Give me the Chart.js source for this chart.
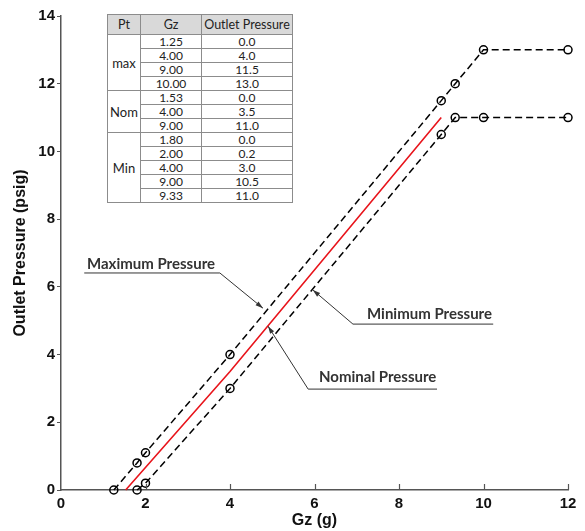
<!DOCTYPE html>
<html><head><meta charset="utf-8">
<script src="https://cdn.jsdelivr.net/npm/chart.js@4.4.1/dist/chart.umd.min.js"></script>
<style>
html,body{margin:0;padding:0;background:#fff;}
#wrap{position:relative;width:585px;height:531px;overflow:hidden;}
#c{position:absolute;left:0;top:0;}
#tbl{position:absolute;left:107px;top:14px;border-collapse:collapse;font-family:Lato,"Open Sans",sans-serif;font-size:12px;color:#222;background:#fff;table-layout:fixed;}
#tbl td,#tbl th{border:1px solid #8c8c8c;padding:0;text-align:center;line-height:12px;height:13px;overflow:hidden;white-space:nowrap;}
#tbl th{background:#d9d9d9;font-weight:normal;height:19px;font-size:12.5px;}
#tbl td.pt{font-size:13px;}
</style></head>
<body>
<div id="wrap">
<canvas id="c" width="585" height="531"></canvas>
<table id="tbl"><colgroup><col style="width:33px"><col style="width:61px"><col style="width:91px"></colgroup><thead><tr><th>Pt</th><th>Gz</th><th>Outlet Pressure</th></tr></thead><tbody id="tb"></tbody></table>
</div>
<script>
// ---- data ----
const maxGz = [1.25, 1.8, 2.0, 4.0, 9.0, 9.33, 10.0, 12.0];
const maxP  = [0.0, 0.8, 1.1, 4.0, 11.5, 12.0, 13.0, 13.0];
const minGz = [1.8, 2.0, 4.0, 9.0, 9.33, 10.0, 12.0];
const minP  = [0.0, 0.2, 3.0, 10.5, 11.0, 11.0, 11.0];
const nomGz = [1.53, 4.0, 9.0];
const nomP  = [0.0, 3.5, 11.0];
const xTickValues = [0, 2, 4, 6, 8, 10, 12];
const yTickValues = [0, 2, 4, 6, 8, 10, 12, 14];
const xTitle = 'Gz (g)';
const yTitle = 'Outlet Pressure (psig)';
// table
const tableHeader = ['Pt', 'Gz', 'Outlet Pressure'];
const tableGroups = ['max', 'Nom', 'Min'];
const tableGz = [['1.25','4.00','9.00','10.00'], ['1.53','4.00','9.00'], ['1.80','2.00','4.00','9.00','9.33']];
const tableP  = [['0.0','4.0','11.5','13.0'], ['0.0','3.5','11.0'], ['0.0','0.2','3.0','10.5','11.0']];
// annotations
const noteLabels = ['Maximum Pressure', 'Minimum Pressure', 'Nominal Pressure'];

// build table
const tb = document.getElementById('tb');
tableGroups.forEach((g, gi) => {
  tableGz[gi].forEach((v, ri) => {
    const tr = document.createElement('tr');
    if (ri === 0) {
      const td = document.createElement('td');
      td.className = 'pt'; td.rowSpan = tableGz[gi].length; td.textContent = g;
      tr.appendChild(td);
    }
    const a = document.createElement('td'); a.textContent = v; tr.appendChild(a);
    const b = document.createElement('td'); b.textContent = tableP[gi][ri]; tr.appendChild(b);
    tb.appendChild(tr);
  });
});

const toXY = (xs, ys) => xs.map((x, i) => ({x: x, y: ys[i]}));

// annotation geometry in data units
const notes = [
  {text: noteLabels[0], tx: 0.615, ty: 6.675, ux0: 0.55, ux1: 3.76, uy: 6.41, tipx: 4.78, tipy: 5.37, from: 'end'},
  {text: noteLabels[1], tx: 7.243, ty: 5.198, ux0: 6.91, ux1: 10.23, uy: 4.90, tipx: 5.96, tipy: 5.91, from: 'start'},
  {text: noteLabels[2], tx: 6.107, ty: 3.338, ux0: 5.85, ux1: 8.90, uy: 2.98, tipx: 4.90, tipy: 4.84, from: 'start'}
];

const notePlugin = {
  id: 'notes',
  afterDraw(chart) {
    const ctx = chart.ctx, xs = chart.scales.x, ys = chart.scales.y;
    ctx.save();
    // inward x ticks
    ctx.strokeStyle = '#555'; ctx.lineWidth = 1.2;
    xTickValues.forEach(v => {
      if (v === 0) return;
      const px = Math.round(xs.getPixelForValue(v)) + 0.5;
      ctx.beginPath(); ctx.moveTo(px, ys.bottom); ctx.lineTo(px, ys.bottom - 6); ctx.stroke();
    });
    // notes
    notes.forEach(n => {
      ctx.fillStyle = '#333';
      ctx.font = 'bold 15px Lato, "Open Sans", sans-serif';
      ctx.textBaseline = 'middle'; ctx.textAlign = 'left';
      ctx.fillText(n.text, xs.getPixelForValue(n.tx), ys.getPixelForValue(n.ty));
      const x0 = xs.getPixelForValue(n.ux0), x1 = xs.getPixelForValue(n.ux1), uy = ys.getPixelForValue(n.uy);
      const tx = xs.getPixelForValue(n.tipx), ty = ys.getPixelForValue(n.tipy);
      const sx = n.from === 'end' ? x1 : x0;
      ctx.strokeStyle = '#333'; ctx.lineWidth = 1;
      ctx.beginPath(); ctx.moveTo(x0, uy); ctx.lineTo(x1, uy); ctx.stroke();
      ctx.beginPath(); ctx.moveTo(sx, uy); ctx.lineTo(tx, ty); ctx.stroke();
      const ang = Math.atan2(ty - uy, tx - sx), L = 8, w = 0.3;
      ctx.beginPath();
      ctx.moveTo(tx, ty);
      ctx.lineTo(tx - L * Math.cos(ang - w), ty - L * Math.sin(ang - w));
      ctx.lineTo(tx - L * Math.cos(ang + w), ty - L * Math.sin(ang + w));
      ctx.closePath();
      ctx.fillStyle = '#333'; ctx.fill();
    });
    ctx.restore();
  }
};

const tickFont = {family: '"Liberation Sans", Arial, sans-serif', size: 15, weight: 'bold'};
const titleFont = {family: '"Liberation Sans", Arial, sans-serif', size: 16, weight: 'bold'};

new Chart(document.getElementById('c'), {
  type: 'line',
  data: {
    datasets: [
      {label: 'Maximum', data: toXY(maxGz, maxP), borderColor: '#000', borderWidth: 1.5, borderDash: [7, 4],
       pointRadius: 4, pointBorderWidth: 1.5, pointBorderColor: '#000', pointBackgroundColor: 'rgba(0,0,0,0)', clip: false, tension: 0},
      {label: 'Minimum', data: toXY(minGz, minP), borderColor: '#000', borderWidth: 1.5, borderDash: [7, 4],
       pointRadius: 4, pointBorderWidth: 1.5, pointBorderColor: '#000', pointBackgroundColor: 'rgba(0,0,0,0)', clip: false, tension: 0},
      {label: 'Nominal', data: toXY(nomGz, nomP), borderColor: '#e8141b', borderWidth: 1.6,
       pointRadius: 0, clip: false, tension: 0}
    ]
  },
  options: {
    responsive: false,
    animation: false,
    layout: {padding: {left: 0, right: 17, top: 16, bottom: 0}},
    plugins: {legend: {display: false}, tooltip: {enabled: false}},
    scales: {
      x: {
        type: 'linear', min: 0, max: 12,
        afterBuildTicks: s => { s.ticks = xTickValues.map(v => ({value: v})); },
        afterFit: s => { s.height = 41; },
        grid: {drawOnChartArea: false, drawTicks: false},
        border: {display: true, color: '#555', width: 1.5},
        ticks: {color: '#111', font: tickFont, padding: 5, maxRotation: 0},
        title: {display: true, text: xTitle, color: '#111', font: titleFont, padding: {top: 0, bottom: 1}}
      },
      y: {
        type: 'linear', min: 0, max: 14,
        afterBuildTicks: s => { s.ticks = yTickValues.map(v => ({value: v})); },
        afterFit: s => { s.width = 61; },
        grid: {drawOnChartArea: false, drawTicks: true, tickLength: 4, color: '#555'},
        border: {display: true, color: '#555', width: 1.5},
        ticks: {color: '#111', font: tickFont, padding: 2},
        title: {display: true, text: yTitle, color: '#111', font: titleFont, padding: {top: 11, bottom: 0}}
      }
    }
  },
  plugins: [notePlugin]
});
</script>
</body></html>
